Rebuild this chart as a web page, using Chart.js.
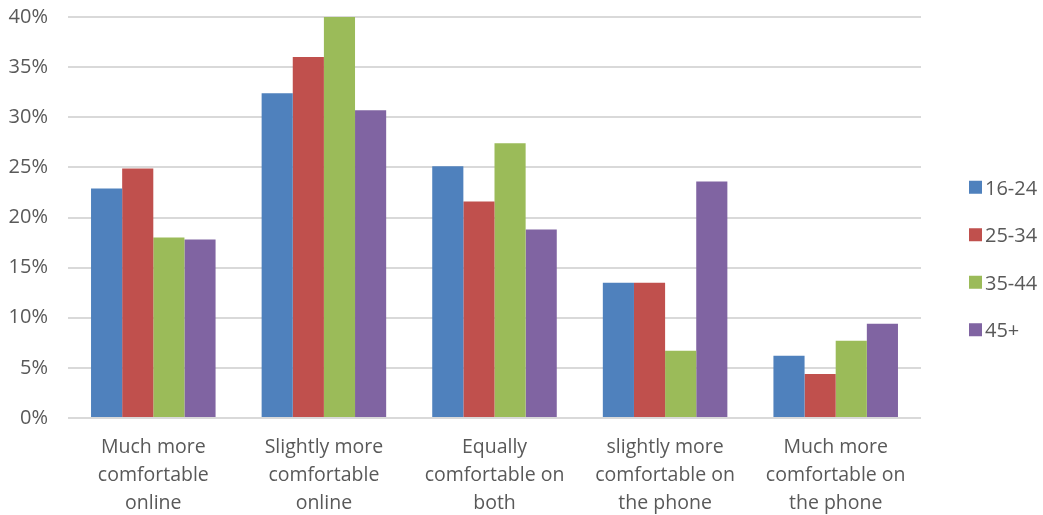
<!DOCTYPE html>
<html>
<head>
<meta charset="utf-8">
<script src="https://cdn.jsdelivr.net/npm/chart.js@4/dist/chart.umd.min.js"></script>
<style>
  html, body { margin: 0; padding: 0; background: #fff; }
  #wrap { width: 1043px; height: 515px; }
</style>
</head>
<body>
<div id="wrap"><canvas id="chart"></canvas></div>
<script>
// categories (wrapped as in the original)
const categories = [
  ["Much more", "comfortable", "online"],
  ["Slightly more", "comfortable", "online"],
  ["Equally", "comfortable on", "both"],
  ["slightly more", "comfortable on", "the phone"],
  ["Much more", "comfortable on", "the phone"],
];

// series values, in percent
const age16to24 = [22.9, 32.4, 25.1, 13.5, 6.2];
const age25to34 = [24.9, 36.0, 21.6, 13.5, 4.4];
const age35to44 = [18.0, 40.0, 27.4, 6.7, 7.7];
const age45plus = [17.8, 30.7, 18.8, 23.6, 9.4];

const seriesNames = ["16-24", "25-34", "35-44", "45+"];
const seriesColors = ["#4F81BD", "#C0504D", "#9BBB59", "#8064A2"];

// y axis
const yMin = 0;
const yMax = 40;
const yStep = 5;

const fontFamily = "'Open Sans', sans-serif";
const textColor = "#595959";

const allSeries = [age16to24, age25to34, age35to44, age45plus];

// legend on the right, drawn by hand so the box/text gap matches
const rightLegend = {
  id: "rightLegend",
  afterDraw(chart) {
    const c = chart.ctx;
    const items = chart.data.datasets;
    const gap = 47.5;
    const boxX = chart.chartArea.right + 48;
    const midY = (chart.chartArea.top + chart.chartArea.bottom) / 2 + 41;
    const y0 = midY - (gap * (items.length - 1)) / 2;
    c.save();
    c.font = "20px " + fontFamily;
    c.textBaseline = "middle";
    c.textAlign = "left";
    items.forEach((ds, i) => {
      const y = y0 + i * gap;
      c.fillStyle = ds.backgroundColor;
      c.fillRect(boxX, y - 6.5, 13, 13);
      c.fillStyle = textColor;
      c.fillText(ds.label, boxX + 16, y + 2);
    });
    c.restore();
  },
};

const ctx = document.getElementById("chart").getContext("2d");
new Chart(ctx, {
  type: "bar",
  data: {
    labels: categories,
    datasets: allSeries.map((values, i) => ({
      label: seriesNames[i],
      data: values,
      backgroundColor: seriesColors[i],
      borderWidth: 0,
      categoryPercentage: 0.73,
      barPercentage: 1.0,
    })),
  },
  options: {
    responsive: true,
    maintainAspectRatio: false,
    animation: false,
    layout: {
      padding: { top: 17, left: 4, right: 122, bottom: 0 },
    },
    scales: {
      x: {
        grid: { display: false },
        border: { display: false },
        afterFit: (scale) => {
          scale.height = 97; // room for the three-line labels
        },
        ticks: {
          color: textColor,
          font: { family: fontFamily, size: 19.5, lineHeight: 1.42 },
          maxRotation: 0,
          autoSkip: false,
          padding: 8,
        },
      },
      y: {
        min: yMin,
        max: yMax,
        border: { display: false },
        grid: { color: "#d9d9d9", lineWidth: 2, drawTicks: false },
        afterFit: (scale) => {
          scale.width = 64;
          scale.paddingTop = 0;
        },
        ticks: {
          stepSize: yStep,
          color: textColor,
          font: { family: fontFamily, size: 20 },
          padding: 20,
          callback: (v) => v + "%",
        },
      },
    },
    plugins: {
      legend: { display: false },
      tooltip: { enabled: false },
    },
  },
  plugins: [rightLegend],
});
</script>
</body>
</html>
